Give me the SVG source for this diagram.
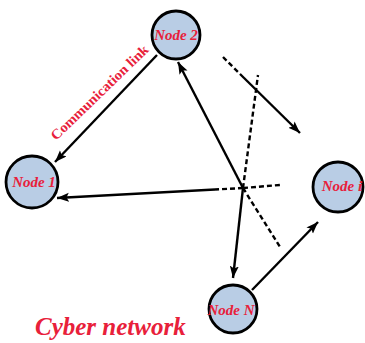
<svg xmlns="http://www.w3.org/2000/svg" width="365" height="343" viewBox="0 0 365 343">
<defs>
<marker id="ah" markerUnits="userSpaceOnUse" markerWidth="14" markerHeight="10" refX="12" refY="4.5" orient="auto">
<path d="M0,0 L12,4.5 L0,9 L2.5,4.5 z" fill="#000"/>
</marker>
<style>
.node circle{fill:#b9cde5;stroke:#000;stroke-width:2.8}
.node text{font-family:"Liberation Serif",serif;font-weight:bold;font-style:italic;font-size:15px;fill:#e8203a;text-anchor:middle}
.ln{stroke:#000;stroke-width:2.4;fill:none}
.arr{marker-end:url(#ah)}
.dash{stroke-dasharray:5 3}
.lbl{font-family:"Liberation Serif",serif;font-weight:bold;fill:#e8203a}
</style>
</defs>
<rect width="365" height="343" fill="#fff"/>
<g id="connectors">
<line class="ln arr" x1="157" y1="55" x2="55" y2="162"/>
<line class="ln arr" x1="243" y1="188" x2="178" y2="62"/>
<line class="ln arr" x1="215" y1="189.5" x2="57" y2="198"/>
<line class="ln dash" x1="243" y1="188" x2="215" y2="189.5"/>
<line class="ln dash" x1="243" y1="188" x2="280" y2="185"/>
<line class="ln arr" x1="243" y1="188" x2="233" y2="278"/>
<line class="ln dash" x1="243" y1="188" x2="280" y2="247"/>
<line class="ln dash" x1="243" y1="188" x2="258" y2="75"/>
<line class="ln dash" x1="223" y1="57" x2="240" y2="74"/>
<line class="ln arr" x1="240" y1="74" x2="300" y2="133"/>
<line class="ln arr" x1="252" y1="290" x2="318" y2="222"/>
</g>
<g id="node2" class="node"><circle cx="176" cy="35" r="24"/><text x="176" y="40">Node 2</text></g>
<g id="node1" class="node"><circle cx="32" cy="182" r="26"/><text x="34" y="187">Node 1</text></g>
<g id="nodei" class="node"><circle cx="338" cy="187" r="25"/><text x="342" y="191">Node i</text></g>
<g id="nodeN" class="node"><circle cx="233" cy="309" r="24"/><text x="231" y="315">Node N</text></g>
<text class="lbl" font-size="14" transform="translate(56,141) rotate(-44)" textLength="130" lengthAdjust="spacingAndGlyphs">Communication link</text>
<text class="lbl" font-size="25" font-style="italic" x="35" y="335">Cyber network</text>
</svg>
